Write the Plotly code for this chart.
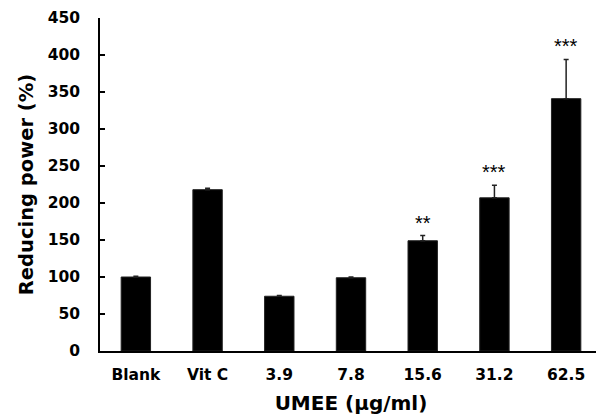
import plotly.graph_objects as go

categories = ["Blank", "Vit C", "3.9", "7.8", "15.6", "31.2", "62.5"]
values = [100, 218, 74, 99, 149, 207, 341]
errors = [1, 2, 1, 1, 7, 17, 53]
stars = ["", "", "", "", "**", "***", "***"]
y_ticks = [0, 50, 100, 150, 200, 250, 300, 350, 400, 450]

FONT = "DejaVu Sans, sans-serif"
STAR_FONT = "Liberation Sans, Arial, sans-serif"

fig = go.Figure()
fig.add_trace(go.Bar(
    x=categories,
    y=values,
    width=0.41,
    marker=dict(color="black", line=dict(color="#222222", width=1)),
    error_y=dict(type="data", array=errors, arrayminus=[0] * len(errors),
                 symmetric=False, color="#222222", thickness=1.5, width=2.5),
))

for i, (v, e, s) in enumerate(zip(values, errors, stars)):
    if s:
        fig.add_annotation(x=i, y=v + e, text=s, showarrow=False,
                           xref="x", yref="y",
                           yanchor="bottom", yshift=0,
                           font=dict(family=STAR_FONT, size=20, color="black"))

# page body adds an 8px offset; margins compensate so the plot lands in place
fig.update_layout(
    width=604, height=418,
    margin=dict(l=92, r=10, t=10, b=75),
    paper_bgcolor="white", plot_bgcolor="white",
    showlegend=False,
    font=dict(family=FONT, color="black"),
)
fig.update_xaxes(
    type="category",
    range=[-0.5, 6.5], automargin=False,
    showline=True, linecolor="black", linewidth=2,
    ticks="", showgrid=False, zeroline=False,
    tickfont=dict(family=FONT, size=15.5, color="black", weight="bold"),
    ticklabelstandoff=8,
    title=dict(text="UMEE (μg/ml)", standoff=13,
               font=dict(family=FONT, size=20, color="black", weight="bold")),
)
fig.update_yaxes(
    range=[0, 450], tickvals=y_ticks, ticktext=[str(t) for t in y_ticks],
    automargin=False,
    showline=True, linecolor="black", linewidth=1.5,
    ticks="inside", ticklen=5, tickwidth=1.5, tickcolor="black",
    showgrid=False, zeroline=False,
    tickfont=dict(family=FONT, size=15.5, color="black", weight="bold"),
    ticklabelstandoff=15,
    title=dict(text="Reducing power (%)", standoff=9,
               font=dict(family=FONT, size=19.5, color="black", weight="bold")),
)

fig.write_html("out.html")
